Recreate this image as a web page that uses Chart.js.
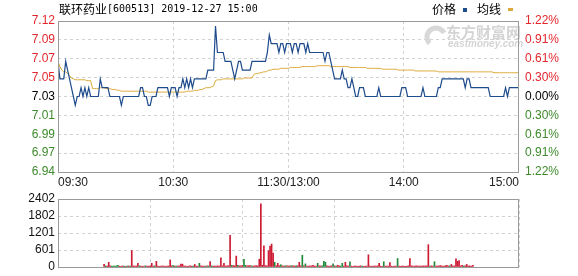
<!DOCTYPE html>
<html>
<head>
<meta charset="utf-8">
<script src="https://cdn.jsdelivr.net/npm/chart.js@4.4.1/dist/chart.umd.min.js"></script>
<style>
    html, body { margin: 0; padding: 0; background: #fff; }
    #wrap { position: relative; width: 578px; height: 276px; overflow: hidden; }
    #priceChart { position: absolute; left: 0; top: 0; }
    #volChart { position: absolute; left: 0; top: 190px; }
</style>
</head>
<body>
<div id="wrap">
    <canvas id="priceChart" width="578" height="192"></canvas>
    <canvas id="volChart" width="578" height="86"></canvas>
</div>
<script>
// --- данные ---
const stockName = '联环药业';
const stockCode = '600513';
const quoteTime = '2019-12-27 15:00';
const prevClose = 7.03;
const maxPct = 1.22;

const timeLabels = ['09:30', '10:30', '11:30/13:00', '14:00', '15:00'];
const timeIndex = [0, 60, 120, 180, 240];

// подписи сверху вниз
const priceTicks = ['7.12', '7.09', '7.07', '7.05', '7.03', '7.01', '6.99', '6.97', '6.94'];
const pctTicks = ['1.22%', '0.91%', '0.61%', '0.30%', '0.00%', '0.30%', '0.61%', '0.91%', '1.22%'];
const volTicks = ['0', '601', '1201', '1802', '2402'];
const volMax = 2402;

// цена по минутам (241 точка)
const prices = [
    7.07,7.05,7.05,7.05,7.07,7.06,7.05,7.04,7.03,7.02,
    7.03,7.03,7.04,7.03,7.04,7.03,7.04,7.03,7.03,7.03,
    7.03,7.03,7.05,7.04,7.04,7.04,7.04,7.03,7.03,7.03,
    7.03,7.03,7.03,7.02,7.03,7.03,7.03,7.03,7.03,7.03,
    7.03,7.03,7.03,7.04,7.04,7.03,7.03,7.02,7.02,7.03,
    7.03,7.03,7.04,7.04,7.04,7.04,7.04,7.04,7.03,7.04,
    7.04,7.04,7.03,7.04,7.04,7.05,7.04,7.05,7.04,7.05,
    7.04,7.05,7.05,7.05,7.05,7.05,7.05,7.05,7.06,7.06,
    7.06,7.06,7.11,7.08,7.08,7.08,7.08,7.07,7.07,7.07,
    7.07,7.06,7.05,7.06,7.07,7.07,7.06,7.06,7.06,7.06,
    7.06,7.07,7.07,7.07,7.07,7.07,7.07,7.07,7.07,7.08,
    7.10,7.09,7.09,7.09,7.09,7.08,7.09,7.09,7.08,7.09,
    7.09,7.09,7.08,7.09,7.09,7.08,7.09,7.09,7.09,7.08,
    7.09,7.08,7.08,7.08,7.08,7.08,7.08,7.08,7.08,7.07,
    7.08,7.08,7.07,7.06,7.05,7.05,7.05,7.05,7.06,7.05,
    7.05,7.04,7.04,7.05,7.04,7.03,7.03,7.04,7.04,7.04,
    7.03,7.03,7.03,7.03,7.03,7.03,7.03,7.04,7.03,7.03,
    7.03,7.03,7.03,7.03,7.03,7.03,7.03,7.03,7.03,7.04,
    7.04,7.04,7.03,7.03,7.03,7.03,7.03,7.03,7.03,7.03,
    7.04,7.03,7.03,7.03,7.03,7.03,7.03,7.03,7.04,7.04,
    7.05,7.05,7.05,7.05,7.05,7.05,7.05,7.05,7.05,7.05,
    7.05,7.05,7.04,7.05,7.05,7.04,7.04,7.04,7.04,7.04,
    7.04,7.04,7.04,7.04,7.04,7.03,7.03,7.03,7.03,7.03,
    7.03,7.03,7.03,7.04,7.03,7.04,7.04,7.04,7.04,7.04,
    7.04
];

// средняя цена (均线)
const avgPrices = [
    7.070,7.064,7.060,7.058,7.058,7.056,7.054,7.051,7.050,7.049,
    7.049,7.049,7.049,7.049,7.049,7.048,7.048,7.048,7.039,7.039,
    7.039,7.039,7.040,7.040,7.040,7.039,7.039,7.039,7.038,7.038,
    7.038,7.037,7.037,7.036,7.036,7.036,7.036,7.036,7.036,7.036,
    7.036,7.036,7.036,7.036,7.036,7.036,7.036,7.035,7.035,7.035,
    7.035,7.035,7.035,7.035,7.035,7.035,7.035,7.035,7.035,7.035,
    7.035,7.035,7.035,7.035,7.035,7.035,7.035,7.036,7.036,7.036,
    7.036,7.037,7.037,7.037,7.038,7.038,7.039,7.040,7.040,7.040,
    7.041,7.042,7.048,7.049,7.049,7.049,7.050,7.050,7.050,7.050,
    7.050,7.050,7.050,7.050,7.050,7.050,7.050,7.051,7.051,7.051,
    7.051,7.051,7.055,7.056,7.056,7.057,7.057,7.058,7.058,7.059,
    7.060,7.060,7.061,7.061,7.061,7.061,7.062,7.062,7.062,7.062,
    7.062,7.063,7.063,7.063,7.063,7.063,7.063,7.064,7.064,7.064,
    7.064,7.064,7.064,7.064,7.064,7.065,7.065,7.065,7.065,7.065,
    7.065,7.065,7.064,7.064,7.064,7.064,7.064,7.064,7.064,7.064,
    7.064,7.064,7.063,7.063,7.063,7.063,7.063,7.063,7.063,7.063,
    7.063,7.062,7.062,7.062,7.062,7.062,7.062,7.062,7.062,7.061,
    7.061,7.061,7.061,7.061,7.061,7.061,7.061,7.060,7.060,7.060,
    7.060,7.060,7.060,7.060,7.060,7.060,7.059,7.059,7.059,7.059,
    7.059,7.059,7.059,7.059,7.059,7.059,7.059,7.059,7.058,7.058,
    7.058,7.058,7.058,7.058,7.058,7.058,7.058,7.058,7.058,7.058,
    7.058,7.058,7.058,7.058,7.058,7.058,7.058,7.058,7.058,7.058,
    7.058,7.058,7.058,7.058,7.058,7.058,7.058,7.057,7.057,7.057,
    7.057,7.057,7.057,7.057,7.057,7.057,7.057,7.057,7.057,7.057,
    7.057
];

// объём по минутам
const volumes = [
    90,40,30,165,40,30,35,30,40,55,
    30,25,35,30,25,30,35,30,580,40,
    30,35,130,40,30,25,35,40,30,30,
    35,130,30,40,200,30,25,30,35,30,
    25,30,35,250,40,55,30,35,30,40,
    100,100,30,35,25,30,40,30,35,90,
    30,35,130,40,30,35,30,40,35,190,
    40,30,35,30,40,35,320,40,130,35,
    40,45,1120,60,50,40,385,60,40,45,
    50,275,60,40,45,50,40,35,40,45,
    40,275,2230,60,750,50,45,580,735,810,
    495,165,40,130,45,80,40,35,45,40,
    35,40,45,40,35,45,40,165,40,415,
    40,110,35,30,40,35,60,30,35,130,
    40,35,45,200,165,40,30,35,40,110,
    35,30,60,40,35,130,30,165,40,35,
    185,30,25,35,30,25,30,40,30,25,
    30,35,430,30,25,30,35,30,40,130,
    30,25,185,30,35,30,155,30,25,30,
    35,300,30,25,35,30,25,30,40,300,
    40,35,30,40,35,30,35,30,40,35,
    40,790,30,40,35,185,30,35,40,50,
    35,30,40,60,35,40,90,35,40,285,
    200,230,40,60,35,40,90,35,40,30,
    60
];

if (prices.length !== 241 || avgPrices.length !== 241 || volumes.length !== 241) {
    throw new Error('length: ' + prices.length + ' ' + avgPrices.length + ' ' + volumes.length);
}

const RED = '#e3262d';
const GREEN = '#3d8a2c';
const GRID = '#d2d2d2';
const FRAME = '#9a9a9a';
const PRICE_COLOR = '#1e4b8c';
const AVG_COLOR = '#dcaa3c';

Chart.defaults.font.family = "'Liberation Sans', Arial, sans-serif";
Chart.defaults.font.size = 12;

const priceMin = prevClose * (1 - maxPct / 100);
const priceMax = prevClose * (1 + maxPct / 100);

const sideColor = (ctx) => {
    const k = 8 - ctx.index; // индекс сверху вниз
    if (k < 4) return RED;
    if (k > 4) return GREEN;
    return '#000';
};

const innerGrid = (last) => (ctx) => (ctx.index === 0 || ctx.index === last) ? 'rgba(0,0,0,0)' : GRID;

// рамка вокруг области графика
const framePlugin = {
    id: 'frame',
    afterDraw(chart) {
        const a = chart.chartArea;
        const ctx = chart.ctx;
        ctx.save();
        ctx.strokeStyle = FRAME;
        ctx.lineWidth = 1;
        ctx.strokeRect(Math.round(a.left) + 0.5, Math.round(a.top) + 0.5,
            Math.round(a.right - a.left) - 1, Math.round(a.bottom - a.top));
        ctx.restore();
    }
};

// заголовок, легенда и водяной знак
const headerPlugin = {
    id: 'header',
    beforeDatasetsDraw(chart) {
        const ctx = chart.ctx;
        ctx.save();
        ctx.fillStyle = '#d4d4d4';
        ctx.strokeStyle = '#d8d8d8';
        ctx.lineWidth = 5;
        ctx.beginPath();
        ctx.arc(436, 37, 9, Math.PI * 0.75, Math.PI * 1.85);
        ctx.stroke();
        ctx.textBaseline = 'alphabetic';
        ctx.font = "bold 15px 'Noto Sans CJK SC'";
        ctx.fillText('东方财富网', 446, 38);
        ctx.font = "italic bold 10px 'Liberation Sans'";
        ctx.fillText('eastmoney.com', 448, 47);
        ctx.restore();
    },
    afterDraw(chart) {
        const ctx = chart.ctx;
        ctx.save();
        ctx.fillStyle = '#000';
        ctx.textBaseline = 'middle';
        ctx.font = "12px 'Noto Sans CJK SC'";
        ctx.fillText(stockName, 59, 9);
        const x2 = 59 + ctx.measureText(stockName).width;
        ctx.translate(x2, 9);
        ctx.scale(0.91, 1);
        ctx.font = "11px 'DejaVu Sans Mono'";
        ctx.fillText('[' + stockCode + '] ' + quoteTime, 0, 0);
        ctx.restore();

        ctx.save();
        ctx.textBaseline = 'middle';
        ctx.font = "12px 'Noto Sans CJK SC'";
        ctx.fillStyle = '#000';
        ctx.fillText('价格', 432, 9);
        ctx.fillText('均线', 477, 9);
        ctx.fillStyle = PRICE_COLOR;
        ctx.fillRect(463, 8, 4, 4);
        ctx.fillStyle = AVG_COLOR;
        ctx.fillRect(508, 8, 5, 3);
        ctx.restore();
    }
};

const xScale = (showLabels) => ({
    type: 'linear',
    min: 0,
    max: 240,
    afterBuildTicks: (s) => { s.ticks = timeIndex.map(v => ({ value: v })); },
    afterFit: (s) => { s.height = showLabels ? 20 : 6; },
    ticks: {
        display: showLabels,
        align: 'inner',
        autoSkip: false,
        maxRotation: 0,
        padding: 3,
        color: '#222',
        callback: (v, i) => timeLabels[i]
    },
    grid: { color: innerGrid(4), drawTicks: false },
    border: { display: false, dash: [3, 3] }
});

new Chart(document.getElementById('priceChart'), {
    type: 'line',
    data: {
        datasets: [
            {
                label: '价格',
                data: prices.map((p, i) => ({ x: i, y: p })),
                borderColor: PRICE_COLOR,
                borderWidth: 1.2,
                pointRadius: 0,
                tension: 0,
                yAxisID: 'y'
            },
            {
                label: '均线',
                data: avgPrices.map((p, i) => ({ x: i, y: p })),
                borderColor: AVG_COLOR,
                borderWidth: 1,
                pointRadius: 0,
                tension: 0,
                yAxisID: 'y'
            }
        ]
    },
    options: {
        responsive: false,
        animation: false,
        layout: { padding: { top: 21, left: 0, right: 0, bottom: 0 } },
        plugins: { legend: { display: false }, title: { display: false }, tooltip: { enabled: false } },
        scales: {
            x: xScale(true),
            y: {
                type: 'linear',
                position: 'left',
                min: priceMin,
                max: priceMax,
                afterBuildTicks: (s) => {
                    s.ticks = priceTicks.map((_, k) => ({ value: priceMin + k * (priceMax - priceMin) / 8 }));
                },
                afterFit: (s) => { s.width = 58; },
                ticks: {
                    autoSkip: false,
                    padding: 3,
                    color: sideColor,
                    callback: (v, i) => priceTicks[8 - i]
                },
                grid: { color: innerGrid(8), drawTicks: false },
                border: { display: false, dash: [3, 3] }
            },
            pct: {
                type: 'linear',
                position: 'right',
                min: priceMin,
                max: priceMax,
                afterBuildTicks: (s) => {
                    s.ticks = pctTicks.map((_, k) => ({ value: priceMin + k * (priceMax - priceMin) / 8 }));
                },
                afterFit: (s) => { s.width = 59; },
                ticks: {
                    autoSkip: false,
                    padding: 6,
                    color: sideColor,
                    callback: (v, i) => pctTicks[8 - i]
                },
                grid: { display: false, drawTicks: false },
                border: { display: false }
            }
        }
    },
    plugins: [headerPlugin, framePlugin]
});

// цвет столбика объёма: падение цены - зелёный
const volColors = volumes.map((v, i) => (i > 0 && prices[i] < prices[i - 1]) ? '#1f8a3a' : '#cc1a33');

new Chart(document.getElementById('volChart'), {
    type: 'bar',
    data: {
        datasets: [{
            label: '成交量',
            data: volumes.map((v, i) => ({ x: i, y: v })),
            backgroundColor: volColors,
            barThickness: 1,
            borderWidth: 0
        }]
    },
    options: {
        responsive: false,
        animation: false,
        layout: { padding: { top: 7, left: 0, right: 59, bottom: 0 } },
        plugins: { legend: { display: false }, tooltip: { enabled: false } },
        scales: {
            x: xScale(false),
            y: {
                type: 'linear',
                position: 'left',
                min: 0,
                max: volMax,
                afterBuildTicks: (s) => {
                    s.ticks = volTicks.map((_, k) => ({ value: k * volMax / 4 }));
                },
                afterFit: (s) => { s.width = 58; },
                ticks: {
                    autoSkip: false,
                    padding: 3,
                    color: '#111',
                    font: { size: 12, lineHeight: 1 },
                    callback: (v, i) => volTicks[i]
                },
                grid: { color: innerGrid(4), drawTicks: false },
                border: { display: false, dash: [3, 3] }
            }
        }
    },
    plugins: [framePlugin]
});
</script>
</body>
</html>
